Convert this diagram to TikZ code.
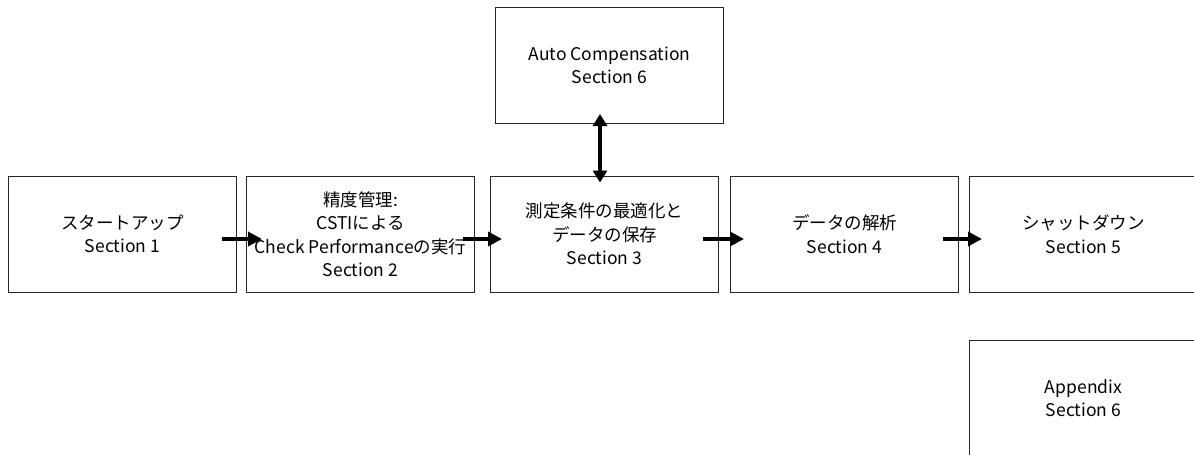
\documentclass[tikz,border=0pt]{standalone}
\usepackage{fontspec}
\setmainfont{Noto Sans CJK JP}
\usetikzlibrary{arrows.meta}
\tikzset{
  box/.style={draw=black!85, line width=1pt, minimum width=228pt, minimum height=116pt, align=center, inner sep=0pt,
    font=\fontsize{17.5}{23.5}\selectfont},
  flow/.style={line width=3.5pt, -{Triangle[length=14pt,width=14pt]}},
  both/.style={line width=3.5pt, {Triangle[length=12pt,width=14pt]}-{Triangle[length=12pt,width=14pt]}}
}
\begin{document}
\begin{tikzpicture}[x=1pt,y=-1pt]
\useasboundingbox (0,0) rectangle (1194,455);
\clip (0,0) rectangle (1194,455);
\node[box] (b1) at (122.5,234) {スタートアップ\\Section 1};
\node[box] (b2) at (360.5,234) {精度管理:\\CSTIによる\\Check Performanceの実行\\Section 2};
\node[box] (b3) at (604.5,234) {測定条件の最適化と\\データの保存\\Section 3};
\node[box] (b4) at (844.5,234) {データの解析\\Section 4};
\node[box] (b5) at (1083.5,234) {シャットダウン\\Section 5};
\node[box] (b6) at (609.5,65.5) {Auto Compensation\\Section 6};
\node[box] (b7) at (1083.5,398) {Appendix\\Section 6};
\draw[flow] ([xshift=-15pt,yshift=-5pt]b1.east) -- ([xshift=16pt,yshift=-5pt]b2.west);
\draw[flow] ([xshift=-12pt,yshift=-5pt]b2.east) -- ([xshift=12pt,yshift=-5pt]b3.west);
\draw[flow] ([xshift=-16pt,yshift=-5pt]b3.east) -- ([xshift=14pt,yshift=-5pt]b4.west);
\draw[flow] ([xshift=-16pt,yshift=-5pt]b4.east) -- ([xshift=13pt,yshift=-5pt]b5.west);
\draw[both] ([xshift=-9.5pt,yshift=10pt]b6.south) -- ([xshift=-4.5pt,yshift=-7pt]b3.north);
\end{tikzpicture}
\end{document}
